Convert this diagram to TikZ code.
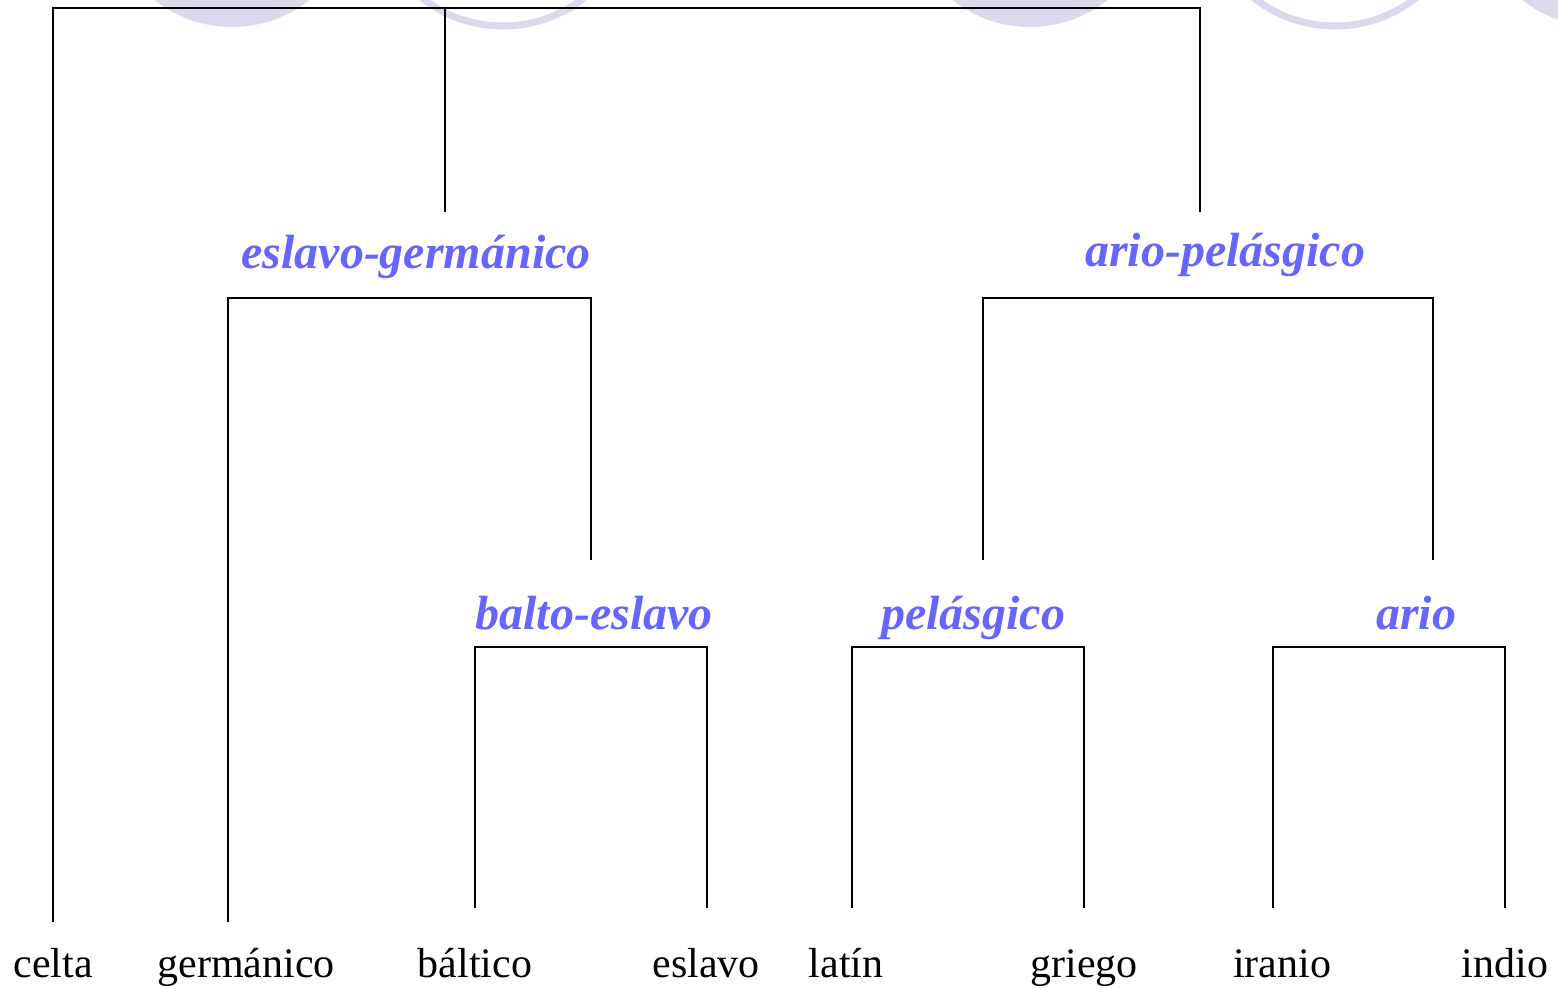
\documentclass[tikz,border=0pt]{standalone}
\usepackage{fontspec}
\setmainfont{Liberation Serif}
\definecolor{deco}{RGB}{218,218,236}
\definecolor{lblue}{RGB}{102,102,255}
\tikzset{
  leaf/.style={anchor=base, inner sep=0pt, font=\fontsize{42}{48}\selectfont},
  group/.style={anchor=base, inner sep=0pt, text=lblue, font=\fontsize{48}{54}\selectfont\bfseries\itshape},
  branch/.style={draw=black, line width=1.6pt},
  disc/.style={fill=deco},
  ring/.style={draw=deco, line width=7pt}
}
\begin{document}
\begin{tikzpicture}[x=1pt,y=-1pt]
\useasboundingbox (0,0) rectangle (1558,988);
% decorative circles
\begin{scope}
\clip (0,0) rectangle (1558,988);
\fill[disc] (232,-98) circle (125);
\draw[ring] (503,-105) circle (131);
\fill[disc] (1030,-98) circle (125);
\draw[ring] (1335,-105) circle (131);
\fill[disc] (1600,-98) circle (125);
\end{scope}
% leaves
\node[leaf] (celta) at (53,977) {celta};
\node[leaf] (germ) at (246,977) {germánico};
\node[leaf] (balt) at (475,977) {báltico};
\node[leaf] (esl) at (706,977) {eslavo};
\node[leaf] (lat) at (846,977) {latín};
\node[leaf] (gri) at (1084,977) {griego};
\node[leaf] (ira) at (1282,977) {iranio};
\node[leaf] (ind) at (1505,977) {indio};
% group labels
\node[group] (eg) at (416,268) {eslavo-germánico};
\node[group] (ap) at (1225,266) {ario-pelásgico};
\node[group] (be) at (594,629) {balto-eslavo};
\node[group] (pe) at (973,629) {pelásgico};
\node[group] (ar) at (1416,629) {ario};
% coordinates
\coordinate (rootL) at (53,8);
\coordinate (rootM) at (445,8);
\coordinate (rootR) at (1200,8);
\coordinate (egTop) at (445,212);
\coordinate (apTop) at (1200,212);
\coordinate (celtaEnd) at (53,922);
\coordinate (egL) at (228,298);
\coordinate (egR) at (591,298);
\coordinate (germEnd) at (228,922);
\coordinate (beTop) at (591,560);
\coordinate (apL) at (983,298);
\coordinate (apR) at (1433,298);
\coordinate (peTop) at (983,560);
\coordinate (arTop) at (1433,560);
\coordinate (beL) at (475,647);
\coordinate (beR) at (707,647);
\coordinate (baltEnd) at (475,908);
\coordinate (eslEnd) at (707,908);
\coordinate (peL) at (852,647);
\coordinate (peR) at (1084,647);
\coordinate (latEnd) at (852,908);
\coordinate (griEnd) at (1084,908);
\coordinate (arL) at (1273,647);
\coordinate (arR) at (1505,647);
\coordinate (iraEnd) at (1273,908);
\coordinate (indEnd) at (1505,908);
% branches
\draw[branch] (celtaEnd) -- (rootL) -- (rootR) -- (apTop);
\draw[branch] (rootM) -- (egTop);
\draw[branch] (germEnd) -- (egL) -- (egR) -- (beTop);
\draw[branch] (peTop) -- (apL) -- (apR) -- (arTop);
\draw[branch] (baltEnd) -- (beL) -- (beR) -- (eslEnd);
\draw[branch] (latEnd) -- (peL) -- (peR) -- (griEnd);
\draw[branch] (iraEnd) -- (arL) -- (arR) -- (indEnd);
\end{tikzpicture}
\end{document}
